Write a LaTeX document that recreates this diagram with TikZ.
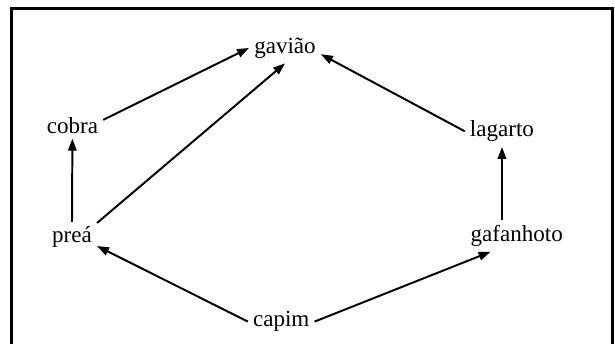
\documentclass[tikz,border=0pt]{standalone}
\usepackage{fontspec}
\setmainfont{Liberation Serif}
\usepackage{tikz}
\usetikzlibrary{arrows.meta}
\tikzset{species/.style={inner sep=3.5pt, anchor=base, font=\fontsize{16.4}{20}\selectfont}}
\tikzset{eats/.style={black, line width=1.4pt, -{Triangle[length=8.5pt,width=6pt]}}}

\begin{document}
\begin{tikzpicture}
\useasboundingbox (0,0) rectangle (15.375,8.6);
\draw[black, line width=2.1pt] (0.29,-0.2) -- (0.29,8.39) -- (15.32,8.39) -- (15.32,-0.2);

\node[species] (gaviao) at (7.125,7.27) {gavião};
\node[species] (cobra) at (1.81,5.27) {cobra};
\node[species] (lagarto) at (12.55,5.18) {lagarto};
\node[species] (prea) at (1.80,2.525) {preá};
\node[species] (gafanhoto) at (12.92,2.56) {gafanhoto};
\node[species] (capim) at (7.03,0.43) {capim};

\draw[eats] (cobra.10) -- (gaviao.west);
\draw[eats] (prea.30) -- (gaviao.south);
\draw[eats] (prea.north) -- (cobra.south);
\draw[eats] (lagarto.west) -- (gaviao.-10);
\draw[eats] (gafanhoto.north -| lagarto.south) -- (lagarto.south);
\draw[eats] (capim.west) -- (prea.-19);
\draw[eats] (capim.east) -- (gafanhoto.211);
\end{tikzpicture}
\end{document}
